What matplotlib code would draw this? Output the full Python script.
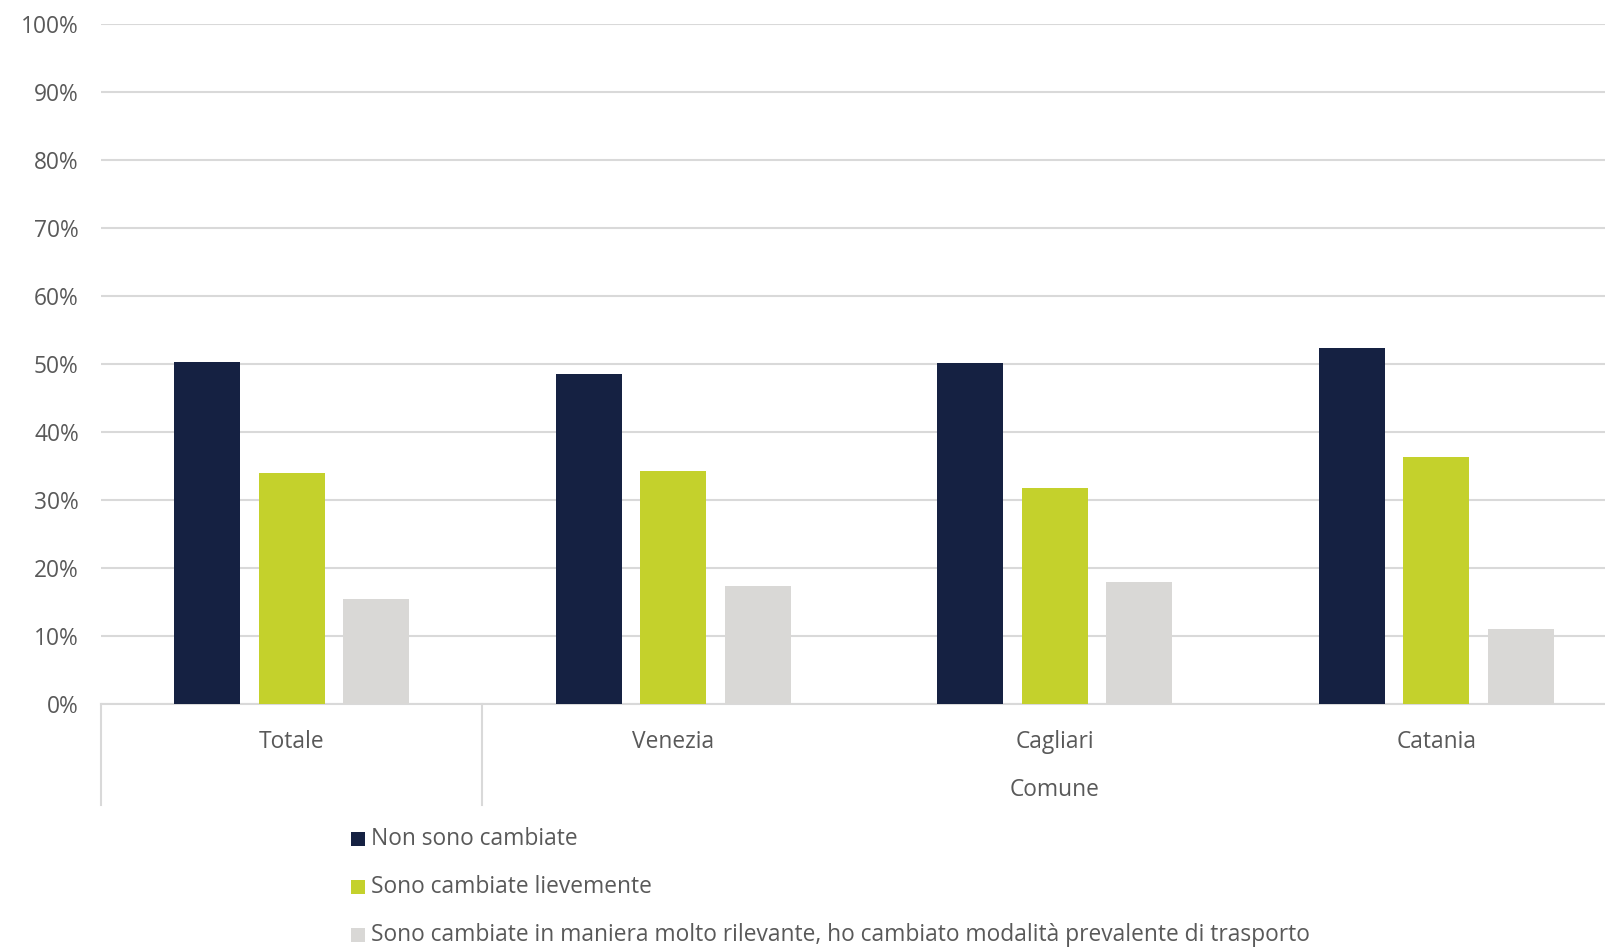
import numpy as np
import matplotlib
matplotlib.use('Agg')
import matplotlib.pyplot as plt
from matplotlib.patches import Rectangle

plt.rcParams['font.family'] = ['Open Sans', 'DejaVu Sans']

# data
categories = ['Totale', 'Venezia', 'Cagliari', 'Catania']
series_names = ['Non sono cambiate',
                'Sono cambiate lievemente',
                'Sono cambiate in maniera molto rilevante, ho cambiato modalità prevalente di trasporto']
non_cambiate = [50.3, 48.5, 50.2, 52.3]
lievemente = [34.0, 34.2, 31.7, 36.3]
rilevante = [15.4, 17.3, 17.9, 11.1]
colors = ['#152142', '#c4d12c', '#d9d8d6']
group_label = 'Comune'

W, H = 1606, 949
fig = plt.figure(figsize=(W / 100, H / 100), dpi=100)
# plot area: 0% at y=704px, 100% at y=24px, categories 381px wide starting at x=101
ax = fig.add_axes([101 / W, (H - 704) / H, 1526 / W, 680 / H])

x = np.arange(len(categories))
width = 0.173
step = 0.222
for i, (vals, col) in enumerate(zip([non_cambiate, lievemente, rilevante], colors)):
    ax.bar(x + (i - 1) * step, vals, width, color=col, zorder=3)

fs = 16.4
txt = '#595959'
ax.set_xlim(-0.5, 3.5)
ax.set_ylim(0, 100)
ax.set_yticks(range(0, 101, 10))
ax.set_yticklabels([f'{v}%' for v in range(0, 101, 10)])
ax.grid(axis='y', color='#d9d9d9', linewidth=1.5, zorder=0)
for s in ['top', 'right', 'left']:
    ax.spines[s].set_visible(False)
ax.spines['bottom'].set_color('#d9d9d9')
ax.spines['bottom'].set_linewidth(1.5)
ax.tick_params(axis='y', length=0, pad=16, labelsize=fs, labelcolor=txt)
ax.tick_params(axis='x', length=0, pad=19, labelsize=fs, labelcolor=txt)
ax.set_xticks(x)
ax.set_xticklabels(categories)

# multi-level category axis separators
trans = ax.get_xaxis_transform()
for xs in [-0.5, 0.5, 3.5]:
    ax.plot([xs, xs], [0, -0.149], color='#d9d9d9', lw=1.5, transform=trans, clip_on=False)
ax.text(2, -0.127, group_label, transform=trans, ha='center', va='center',
        fontsize=fs, color=txt)

# legend, one entry per row
for i, (name, col) in enumerate(zip(series_names, colors)):
    yc = 839 + i * 48
    fig.patches.append(Rectangle((351 / W, 1 - (yc + 7) / H), 14 / W, 14 / H,
                                 transform=fig.transFigure, facecolor=col, edgecolor='none'))
    fig.text(371 / W, 1 - yc / H, name, fontsize=fs, color=txt, va='center', ha='left')

fig.savefig('out.png', dpi=100)
